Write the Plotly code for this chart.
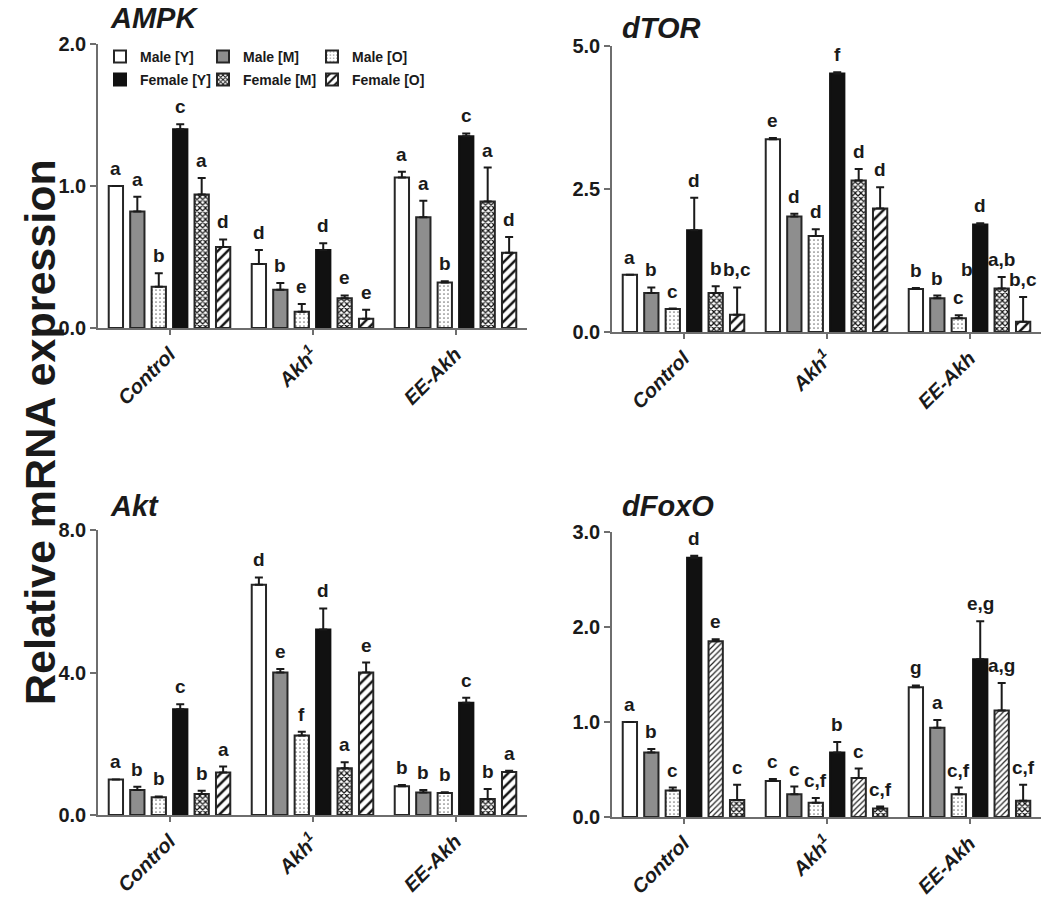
import plotly.graph_objects as go

# ---------------- data ----------------
categories = ["Control", "Akh<sup>1</sup>", "EE-Akh"]
series = ["Male [Y]", "Male [M]", "Male [O]", "Female [Y]", "Female [M]", "Female [O]"]

# values are listed per bar position within each group (6 bars), for each category
ampk_vals = [[1.00, 0.45, 1.06], [0.82, 0.27, 0.78], [0.29, 0.115, 0.32],
             [1.40, 0.55, 1.35], [0.94, 0.21, 0.89], [0.57, 0.065, 0.53]]
ampk_err = [[0.0, 0.10, 0.04], [0.105, 0.047, 0.117], [0.095, 0.054, 0.01],
            [0.035, 0.047, 0.02], [0.117, 0.019, 0.24], [0.054, 0.064, 0.11]]
ampk_let = [["a", "d", "a"], ["a", "b", "a"], ["b", "e", "b"],
            ["c", "d", "c"], ["a", "e", "a"], ["d", "e", "d"]]

dtor_vals = [[1.00, 3.37, 0.75], [0.68, 2.02, 0.59], [0.40, 1.68, 0.24],
             [1.78, 4.52, 1.88], [0.68, 2.65, 0.76], [0.30, 2.16, 0.18]]
dtor_err = [[0.0, 0.02, 0.02], [0.10, 0.047, 0.046], [0.01, 0.117, 0.052],
            [0.565, 0.02, 0.02], [0.12, 0.20, 0.20], [0.48, 0.37, 0.43]]
dtor_let = [["a", "e", "b"], ["b", "d", "b"], ["c", "d", "c"],
            ["d", "f", "d"], ["b", "d", "a,b"], ["b,c", "d", "b,c"]]
dtor_extra_letter = "b"
dtor_extra_pos = (1.98, 0.78)

akt_vals = [[1.00, 6.46, 0.81], [0.70, 4.00, 0.63], [0.50, 2.23, 0.62],
            [2.97, 5.21, 3.15], [0.59, 1.31, 0.45], [1.19, 4.00, 1.21]]
akt_err = [[0.0, 0.21, 0.03], [0.094, 0.10, 0.07], [0.02, 0.11, 0.02],
           [0.14, 0.59, 0.14], [0.09, 0.17, 0.28], [0.17, 0.28, 0.03]]
akt_let = [["a", "d", "b"], ["b", "e", "b"], ["b", "f", "b"],
           ["c", "d", "c"], ["b", "a", "b"], ["a", "e", "a"]]

dfoxo_vals = [[1.00, 0.38, 1.365], [0.68, 0.24, 0.94], [0.28, 0.15, 0.24],
              [2.73, 0.68, 1.66], [1.85, 0.41, 1.12], [0.18, 0.09, 0.17]]
dfoxo_err = [[0.0, 0.02, 0.02], [0.035, 0.08, 0.08], [0.03, 0.05, 0.07],
             [0.02, 0.11, 0.40], [0.02, 0.10, 0.29], [0.16, 0.02, 0.17]]
dfoxo_let = [["a", "c", "g"], ["b", "c", "a"], ["c", "c,f", "c,f"],
             ["d", "b", "e,g"], ["e", "c", "a,g"], ["c", "c,f", "c,f"]]

titles = ["AMPK", "dTOR", "Akt", "dFoxO"]
yticks = [[0, 1, 2], [0, 2.5, 5], [0, 4, 8], [0, 1, 2, 3]]
yranges = [[0, 2], [0, 5], [0, 8], [0, 3]]

# ---------------- styles ----------------
LINE = "#262626"
AX = "#6e6e6e"
FONT = "Arial, Liberation Sans, sans-serif"
TXT = "#1a1a1a"

style_white = dict(color="white", line=dict(color=LINE, width=2))
style_gray = dict(color="#8e8e8e", line=dict(color=LINE, width=2))
style_dots = dict(color="white", line=dict(color=LINE, width=2),
                  pattern=dict(shape=".", fgcolor="#7a7a7a", bgcolor="white", size=4, solidity=0.15))
style_black = dict(color="#111111", line=dict(color="#111111", width=2))
style_check = dict(color="white", line=dict(color=LINE, width=2),
                   pattern=dict(shape="x", fgcolor="#111111", bgcolor="white", size=4, solidity=0.5))
style_hatch = dict(color="white", line=dict(color=LINE, width=2),
                   pattern=dict(shape="/", fgcolor="#111111", bgcolor="white", size=7, solidity=0.35))
style_hatch_fine = dict(color="white", line=dict(color=LINE, width=2),
                        pattern=dict(shape="/", fgcolor="#222222", bgcolor="white", size=4, solidity=0.3))

std_styles = [style_white, style_gray, style_dots, style_black, style_check, style_hatch]
foxo_styles = [style_white, style_gray, style_dots, style_black, style_hatch_fine, style_check]

panels = [
    (ampk_vals, ampk_err, ampk_let, std_styles),
    (dtor_vals, dtor_err, dtor_let, std_styles),
    (akt_vals, akt_err, akt_let, std_styles),
    (dfoxo_vals, dfoxo_err, dfoxo_let, foxo_styles),
]

W, H = 1043, 900
xdoms = [[98 / W, 527 / W], [612 / W, 1041 / W], [98 / W, 527 / W], [612 / W, 1041 / W]]
ydoms = [[(H - 328) / H, (H - 44) / H], [(H - 332) / H, (H - 46) / H],
         [(H - 815) / H, (H - 530) / H], [(H - 817) / H, (H - 532) / H]]

# one legend box per entry (2 rows x 3 columns), pixel positions of each box
legend_ids = ["legend", "legend2", "legend3", "legend4", "legend5", "legend6"]
legend_xy = [(100, 41), (203, 41), (312, 41), (100, 64), (203, 64), (312, 64)]

STEP = 0.15
BW = 0.10

fig = go.Figure()
annots = []
for p, (vals, errs, lets, styles) in enumerate(panels):
    xa = "x" if p == 0 else f"x{p + 1}"
    ya = "y" if p == 0 else f"y{p + 1}"
    for j in range(6):
        xs = [g + (j - 2.5) * STEP for g in range(len(categories))]
        fig.add_trace(go.Bar(
            x=xs, y=vals[j], width=BW, xaxis=xa, yaxis=ya,
            name=series[j], marker=styles[j],
            error_y=dict(type="data", symmetric=False, array=errs[j],
                         arrayminus=[0] * len(errs[j]), color="#1a1a1a", thickness=2, width=4),
            showlegend=(p == 0), legend=legend_ids[j],
        ))
        for xv, v, e, t in zip(xs, vals[j], errs[j], lets[j]):
            annots.append(dict(x=xv, y=v + e, xref=xa, yref=ya, text=f"<b>{t}</b>",
                               showarrow=False, xanchor="center", yanchor="bottom", yshift=5,
                               font=dict(family=FONT, size=19, color=TXT)))

annots.append(dict(x=dtor_extra_pos[0], y=dtor_extra_pos[1], xref="x2", yref="y2",
                   text=f"<b>{dtor_extra_letter}</b>", showarrow=False, xanchor="center",
                   yanchor="bottom", yshift=5, font=dict(family=FONT, size=19, color=TXT)))

legend_common = dict(orientation="h", xanchor="left", yanchor="top",
                     font=dict(family=FONT, size=14, weight="bold", color=TXT),
                     bgcolor="rgba(0,0,0,0)", traceorder="normal")
layout = dict(
    width=W, height=H, template="none", barmode="overlay",
    paper_bgcolor="white", plot_bgcolor="white",
    margin=dict(l=0, r=0, t=0, b=0),
    font=dict(family=FONT, color=TXT),
)
for lid, (lx, ly) in zip(legend_ids, legend_xy):
    layout[lid] = dict(x=lx / W, y=1 - ly / H, **legend_common)

for p in range(4):
    sx = "xaxis" if p == 0 else f"xaxis{p + 1}"
    sy = "yaxis" if p == 0 else f"yaxis{p + 1}"
    ya = "y" if p == 0 else f"y{p + 1}"
    xa = "x" if p == 0 else f"x{p + 1}"
    layout[sx] = dict(domain=xdoms[p], anchor=ya, range=[-0.5, 2.5],
                      tickvals=list(range(len(categories))), ticktext=categories,
                      tickangle=-45, showline=True, linecolor=AX, linewidth=1.5,
                      ticks="outside", ticklen=5, tickcolor=AX, tickwidth=1.5,
                      showgrid=False, zeroline=False, automargin=False,
                      tickfont=dict(family=FONT, size=20, weight="bold", style="italic", color=TXT))
    layout[sy] = dict(domain=ydoms[p], anchor=xa, range=yranges[p], tickvals=yticks[p],
                      tickformat=".1f", showline=True, linecolor=AX, linewidth=1.5,
                      ticks="outside", ticklen=6, tickcolor=AX, tickwidth=1.5,
                      showgrid=False, zeroline=False, automargin=False,
                      tickfont=dict(family=FONT, size=20, weight="bold", color=TXT))
fig.update_layout(**layout)

title_pos = [(108, 18), (620, 28), (108, 506), (620, 506)]
for t, (px, py) in zip(titles, title_pos):
    annots.append(dict(text=f"<b><i>{t}</i></b>", xref="paper", yref="paper",
                       x=px / W, y=1 - py / H, xanchor="left", yanchor="middle",
                       showarrow=False, font=dict(family=FONT, size=29, color=TXT)))

annots.append(dict(text="<b>Relative mRNA expression</b>", xref="paper", yref="paper",
                   x=40 / W, y=1 - 432 / H, xanchor="center", yanchor="middle", textangle=-90,
                   showarrow=False, font=dict(family=FONT, size=43, color=TXT)))
fig.update_layout(annotations=annots)

fig.write_html("out.html", config={"displayModeBar": False},
               post_script="document.body.style.margin='0px';document.body.style.overflow='hidden';")
